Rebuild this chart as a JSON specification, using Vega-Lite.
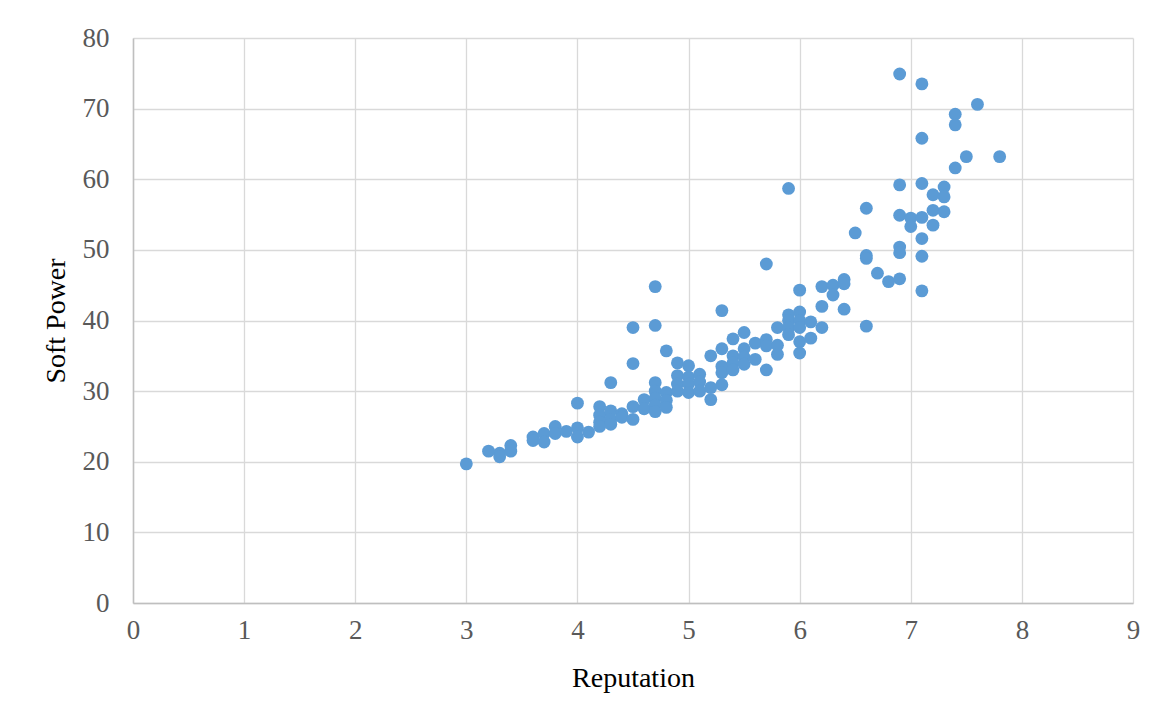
{
  "$schema": "https://vega.github.io/schema/vega-lite/v6.json",
  "width": 1000,
  "height": 565,
  "autosize": {"type": "none"},
  "padding": {"left": 133, "top": 38, "right": 31, "bottom": 112},
  "background": "white",
  "config": {
    "view": {"stroke": null},
    "font": "Liberation Serif"
  },
  "data": {
    "values": [
      {"Reputation": 3.0, "SoftPower": 19.7},
      {"Reputation": 3.2, "SoftPower": 21.5},
      {"Reputation": 3.3, "SoftPower": 21.2},
      {"Reputation": 3.3, "SoftPower": 20.7},
      {"Reputation": 3.4, "SoftPower": 22.3},
      {"Reputation": 3.4, "SoftPower": 21.5},
      {"Reputation": 3.6, "SoftPower": 23.5},
      {"Reputation": 3.6, "SoftPower": 23.0},
      {"Reputation": 3.7, "SoftPower": 24.0},
      {"Reputation": 3.7, "SoftPower": 22.8},
      {"Reputation": 3.8, "SoftPower": 25.0},
      {"Reputation": 3.8, "SoftPower": 24.0},
      {"Reputation": 3.9, "SoftPower": 24.3},
      {"Reputation": 4.0, "SoftPower": 28.3},
      {"Reputation": 4.0, "SoftPower": 24.8},
      {"Reputation": 4.0, "SoftPower": 23.5},
      {"Reputation": 4.1, "SoftPower": 24.2},
      {"Reputation": 4.2, "SoftPower": 27.8},
      {"Reputation": 4.2, "SoftPower": 26.6},
      {"Reputation": 4.2, "SoftPower": 25.6},
      {"Reputation": 4.2, "SoftPower": 25.0},
      {"Reputation": 4.3, "SoftPower": 31.2},
      {"Reputation": 4.3, "SoftPower": 27.2},
      {"Reputation": 4.3, "SoftPower": 26.0},
      {"Reputation": 4.3, "SoftPower": 25.3},
      {"Reputation": 4.4, "SoftPower": 26.8},
      {"Reputation": 4.4, "SoftPower": 26.3},
      {"Reputation": 4.5, "SoftPower": 39.0},
      {"Reputation": 4.5, "SoftPower": 33.9},
      {"Reputation": 4.5, "SoftPower": 27.8},
      {"Reputation": 4.5, "SoftPower": 26.0},
      {"Reputation": 4.6, "SoftPower": 28.8},
      {"Reputation": 4.6, "SoftPower": 27.5},
      {"Reputation": 4.7, "SoftPower": 44.8},
      {"Reputation": 4.7, "SoftPower": 39.3},
      {"Reputation": 4.7, "SoftPower": 31.2},
      {"Reputation": 4.7, "SoftPower": 30.0},
      {"Reputation": 4.7, "SoftPower": 29.0},
      {"Reputation": 4.7, "SoftPower": 28.0},
      {"Reputation": 4.7, "SoftPower": 27.1},
      {"Reputation": 4.8, "SoftPower": 35.7},
      {"Reputation": 4.8, "SoftPower": 29.8},
      {"Reputation": 4.8, "SoftPower": 28.7},
      {"Reputation": 4.8, "SoftPower": 27.7},
      {"Reputation": 4.9, "SoftPower": 34.0},
      {"Reputation": 4.9, "SoftPower": 32.2},
      {"Reputation": 4.9, "SoftPower": 31.0},
      {"Reputation": 4.9, "SoftPower": 30.0},
      {"Reputation": 5.0, "SoftPower": 33.6},
      {"Reputation": 5.0, "SoftPower": 32.0},
      {"Reputation": 5.0, "SoftPower": 31.0},
      {"Reputation": 5.0, "SoftPower": 29.8},
      {"Reputation": 5.1, "SoftPower": 32.4},
      {"Reputation": 5.1, "SoftPower": 31.3},
      {"Reputation": 5.1, "SoftPower": 30.0},
      {"Reputation": 5.2, "SoftPower": 35.0},
      {"Reputation": 5.2, "SoftPower": 30.5},
      {"Reputation": 5.2, "SoftPower": 28.8},
      {"Reputation": 5.3, "SoftPower": 41.4},
      {"Reputation": 5.3, "SoftPower": 36.0},
      {"Reputation": 5.3, "SoftPower": 33.5},
      {"Reputation": 5.3, "SoftPower": 32.6},
      {"Reputation": 5.3, "SoftPower": 30.9},
      {"Reputation": 5.4, "SoftPower": 37.4},
      {"Reputation": 5.4, "SoftPower": 35.0},
      {"Reputation": 5.4, "SoftPower": 34.0},
      {"Reputation": 5.4, "SoftPower": 33.0},
      {"Reputation": 5.5, "SoftPower": 38.3},
      {"Reputation": 5.5, "SoftPower": 36.0},
      {"Reputation": 5.5, "SoftPower": 34.8},
      {"Reputation": 5.5, "SoftPower": 33.8},
      {"Reputation": 5.6, "SoftPower": 36.8},
      {"Reputation": 5.6, "SoftPower": 34.5},
      {"Reputation": 5.7, "SoftPower": 48.0},
      {"Reputation": 5.7, "SoftPower": 37.3},
      {"Reputation": 5.7, "SoftPower": 36.4},
      {"Reputation": 5.7, "SoftPower": 33.0},
      {"Reputation": 5.8, "SoftPower": 39.0},
      {"Reputation": 5.8, "SoftPower": 36.5},
      {"Reputation": 5.8, "SoftPower": 35.2},
      {"Reputation": 5.9, "SoftPower": 58.7},
      {"Reputation": 5.9, "SoftPower": 40.8},
      {"Reputation": 5.9, "SoftPower": 40.0},
      {"Reputation": 5.9, "SoftPower": 39.0},
      {"Reputation": 5.9, "SoftPower": 38.0},
      {"Reputation": 6.0, "SoftPower": 44.3},
      {"Reputation": 6.0, "SoftPower": 41.2},
      {"Reputation": 6.0, "SoftPower": 40.0},
      {"Reputation": 6.0, "SoftPower": 39.0},
      {"Reputation": 6.0, "SoftPower": 37.0},
      {"Reputation": 6.0, "SoftPower": 35.4},
      {"Reputation": 6.1, "SoftPower": 39.8},
      {"Reputation": 6.1, "SoftPower": 37.5},
      {"Reputation": 6.2, "SoftPower": 44.8},
      {"Reputation": 6.2, "SoftPower": 42.0},
      {"Reputation": 6.2, "SoftPower": 39.0},
      {"Reputation": 6.3, "SoftPower": 45.0},
      {"Reputation": 6.3, "SoftPower": 43.6},
      {"Reputation": 6.4, "SoftPower": 45.8},
      {"Reputation": 6.4, "SoftPower": 45.2},
      {"Reputation": 6.4, "SoftPower": 41.6},
      {"Reputation": 6.5, "SoftPower": 52.4},
      {"Reputation": 6.6, "SoftPower": 55.9},
      {"Reputation": 6.6, "SoftPower": 49.2},
      {"Reputation": 6.6, "SoftPower": 48.8},
      {"Reputation": 6.6, "SoftPower": 39.2},
      {"Reputation": 6.7, "SoftPower": 46.7},
      {"Reputation": 6.8, "SoftPower": 45.5},
      {"Reputation": 6.9, "SoftPower": 74.9},
      {"Reputation": 6.9, "SoftPower": 59.2},
      {"Reputation": 6.9, "SoftPower": 54.9},
      {"Reputation": 6.9, "SoftPower": 50.4},
      {"Reputation": 6.9, "SoftPower": 49.6},
      {"Reputation": 6.9, "SoftPower": 45.9},
      {"Reputation": 7.0, "SoftPower": 54.5},
      {"Reputation": 7.0, "SoftPower": 53.3},
      {"Reputation": 7.1, "SoftPower": 73.5},
      {"Reputation": 7.1, "SoftPower": 65.8},
      {"Reputation": 7.1, "SoftPower": 59.4},
      {"Reputation": 7.1, "SoftPower": 54.6},
      {"Reputation": 7.1, "SoftPower": 51.6},
      {"Reputation": 7.1, "SoftPower": 49.1},
      {"Reputation": 7.1, "SoftPower": 44.2},
      {"Reputation": 7.2, "SoftPower": 57.8},
      {"Reputation": 7.2, "SoftPower": 55.6},
      {"Reputation": 7.2, "SoftPower": 53.5},
      {"Reputation": 7.3, "SoftPower": 58.9},
      {"Reputation": 7.3, "SoftPower": 57.5},
      {"Reputation": 7.3, "SoftPower": 55.4},
      {"Reputation": 7.4, "SoftPower": 69.2},
      {"Reputation": 7.4, "SoftPower": 67.7},
      {"Reputation": 7.4, "SoftPower": 61.6},
      {"Reputation": 7.5, "SoftPower": 63.2},
      {"Reputation": 7.6, "SoftPower": 70.6},
      {"Reputation": 7.8, "SoftPower": 63.2}
    ]
  },
  "mark": {"type": "point", "shape": "circle", "filled": true, "size": 165, "color": "#5B9BD5", "opacity": 1},
  "encoding": {
    "x": {
      "field": "Reputation", "type": "quantitative",
      "scale": {"domain": [0, 9], "nice": false, "zero": true},
      "axis": {
        "title": "Reputation",
        "values": [0,1,2,3,4,5,6,7,8,9],
        "format": "d",
        "grid": true, "gridColor": "#D9D9D9", "gridWidth": 1.3,
        "domainColor": "#BFBFBF", "domainWidth": 1.5,
        "ticks": false,
        "labelFlush": false,
        "labelFont": "Liberation Serif", "labelFontSize": 27, "labelColor": "#595959", "labelPadding": 14,
        "titleFont": "Liberation Serif", "titleFontSize": 28, "titleFontWeight": "normal", "titleColor": "#000000", "titlePadding": 21
      }
    },
    "y": {
      "field": "SoftPower", "type": "quantitative",
      "scale": {"domain": [0, 80], "nice": false},
      "axis": {
        "title": "Soft Power",
        "values": [0,10,20,30,40,50,60,70,80],
        "grid": true, "gridColor": "#D9D9D9", "gridWidth": 1.3,
        "domainColor": "#BFBFBF", "domainWidth": 1.5,
        "ticks": false,
        "labelFlush": false,
        "labelFont": "Liberation Serif", "labelFontSize": 27, "labelColor": "#595959", "labelPadding": 24,
        "titleFont": "Liberation Serif", "titleFontSize": 28, "titleFontWeight": "normal", "titleColor": "#000000", "titlePadding": 12
      }
    }
  }
}
